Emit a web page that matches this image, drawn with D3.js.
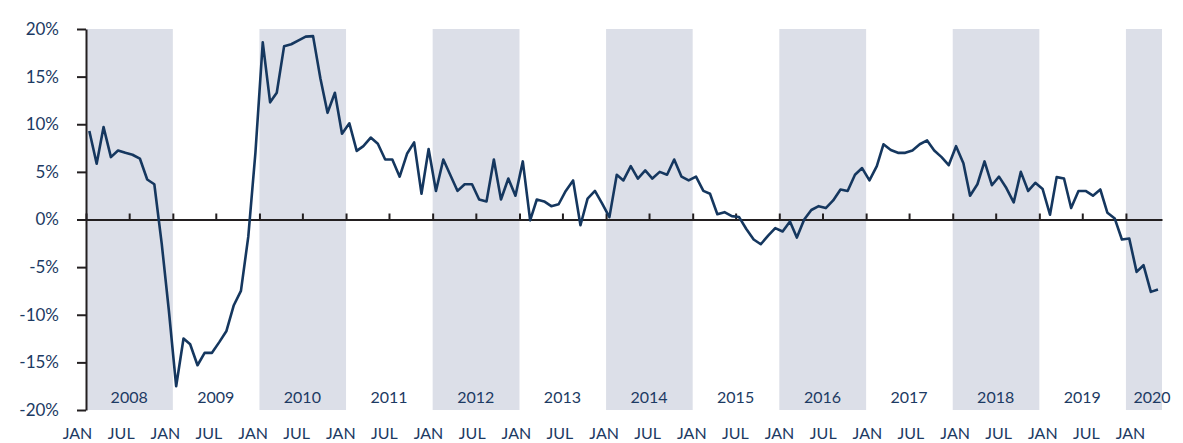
<!DOCTYPE html>
<html>
<head>
<meta charset="utf-8">
<script src="https://cdn.jsdelivr.net/npm/d3@7"></script>
<style>
  html, body { margin: 0; padding: 0; background: #ffffff; }
  svg { display: block; }
  text { font-family: "Lato", "Open Sans", sans-serif; }
</style>
</head>
<body>
<svg id="chart" width="1183" height="443"></svg>
<script>
// ---- data (monthly, Jan 2008 – May 2020), % change ----
const startYear = 2008;
const values2008 = [9.3, 5.85, 9.7, 6.55, 7.25, 7.0, 6.8, 6.4, 4.2, 3.7, -2.5, -9.5];
const values2009 = [-17.5, -12.5, -13.1, -15.3, -14.0, -14.0, -12.9, -11.7, -9.0, -7.5, -1.8, 7.0];
const values2010 = [18.6, 12.3, 13.3, 18.2, 18.4, 18.8, 19.2, 19.25, 14.8, 11.2, 13.3, 9.0];
const values2011 = [10.1, 7.2, 7.7, 8.6, 7.95, 6.3, 6.3, 4.5, 6.9, 8.1, 2.7, 7.4];
const values2012 = [3.0, 6.3, 4.7, 3.0, 3.7, 3.7, 2.1, 1.9, 6.3, 2.1, 4.3, 2.5];
const values2013 = [6.1, -0.1, 2.1, 1.9, 1.4, 1.6, 3.0, 4.1, -0.6, 2.2, 3.0, 1.7];
const values2014 = [0.25, 4.7, 4.1, 5.6, 4.3, 5.15, 4.3, 5.0, 4.7, 6.3, 4.5, 4.1];
const values2015 = [4.5, 3.0, 2.7, 0.55, 0.77, 0.35, 0.27, -1.0, -2.1, -2.6, -1.7, -0.9];
const values2016 = [-1.26, -0.2, -1.9, 0.0, 1.0, 1.4, 1.2, 2.0, 3.15, 3.0, 4.7, 5.4];
const values2017 = [4.1, 5.6, 7.9, 7.3, 7.0, 7.0, 7.25, 7.9, 8.3, 7.25, 6.55, 5.7];
const values2018 = [7.7, 5.9, 2.5, 3.7, 6.1, 3.6, 4.5, 3.3, 1.8, 5.0, 3.0, 3.85];
const values2019 = [3.2, 0.5, 4.45, 4.3, 1.2, 3.0, 3.0, 2.5, 3.15, 0.7, 0.1, -2.1];
const values2020 = [-2.0, -5.5, -4.8, -7.6, -7.35];

const years = [2008, 2009, 2010, 2011, 2012, 2013, 2014, 2015, 2016, 2017, 2018, 2019, 2020];
const shadedYears = [2008, 2010, 2012, 2014, 2016, 2018, 2020];
const yTicks = [-20, -15, -10, -5, 0, 5, 10, 15, 20];

// ---- build series ----
const allValues = [].concat(values2008, values2009, values2010, values2011, values2012,
  values2013, values2014, values2015, values2016, values2017, values2018, values2019, values2020);
const series = allValues.map((v, i) => ({
  date: new Date(Date.UTC(startYear, i, 15)),
  value: v
}));

// ---- layout ----
const svg = d3.select("#chart");
const navy = "#1c3a63";
const axisCol = "#231f20";

const x = d3.scaleUtc()
  .domain([new Date(Date.UTC(2008, 0, 1)), new Date(Date.UTC(2020, 5, 1))])
  .range([86, 1162]);
const y = d3.scaleLinear().domain([-20, 20]).range([410, 29]);

// label scale for the bottom month row
const xLab = d3.scaleUtc()
  .domain([new Date(Date.UTC(2008, 0, 1)), new Date(Date.UTC(2020, 0, 1))])
  .range([77, 1130]);

// ---- shaded year bands ----
svg.append("g").selectAll("rect")
  .data(shadedYears)
  .join("rect")
  .attr("x", d => x(new Date(Date.UTC(d, 0, 1))))
  .attr("y", y(20))
  .attr("width", d => Math.min(x(new Date(Date.UTC(d + 1, 0, 1))), x.range()[1]) - x(new Date(Date.UTC(d, 0, 1))))
  .attr("height", y(-20) - y(20))
  .attr("fill", "#dcdfe8");

// ---- year labels ----
svg.append("g").selectAll("text")
  .data(years)
  .join("text")
  .attr("x", d => Math.min(x(new Date(Date.UTC(d, 6, 1))), x.range()[1] - 10))
  .attr("y", 403)
  .attr("text-anchor", "middle")
  .attr("font-size", 16)
  .attr("fill", navy)
  .text(d => d);

// ---- y axis ----
const yAxis = svg.append("g")
  .attr("transform", `translate(${x.range()[0]},0)`)
  .call(d3.axisLeft(y).tickValues(yTicks).tickSize(9).tickSizeOuter(0).tickPadding(18)
    .tickFormat(d => d + "%"));
yAxis.select(".domain").attr("stroke", axisCol).attr("stroke-width", 2);
yAxis.selectAll(".tick line").attr("stroke", axisCol).attr("stroke-width", 2);
yAxis.selectAll(".tick text").attr("font-size", 17).attr("fill", navy)
  .attr("font-family", "Lato, 'Open Sans', sans-serif");

// ---- zero line with half-year ticks ----
const zeroAxis = svg.append("g")
  .attr("transform", `translate(0,${y(0)})`)
  .call(d3.axisBottom(x).ticks(d3.utcMonth.every(6)).tickSizeInner(-6).tickSizeOuter(0)
    .tickFormat(""));
zeroAxis.select(".domain").attr("stroke", axisCol).attr("stroke-width", 2);
zeroAxis.selectAll(".tick line").attr("stroke", axisCol).attr("stroke-width", 2);

// ---- data line ----
const line = d3.line()
  .x(d => x(d.date))
  .y(d => y(d.value));
svg.append("path")
  .datum(series)
  .attr("d", line)
  .attr("fill", "none")
  .attr("stroke", "#15375f")
  .attr("stroke-width", 2.6)
  .attr("stroke-linejoin", "round");

// ---- month labels row ----
const monthAxis = svg.append("g")
  .attr("transform", "translate(0,428)")
  .call(d3.axisBottom(xLab).ticks(d3.utcMonth.every(6)).tickSize(0).tickPadding(0)
    .tickFormat(d => d3.utcFormat("%b")(d).toUpperCase()));
monthAxis.select(".domain").remove();
monthAxis.selectAll(".tick text").attr("font-size", 16).attr("fill", navy)
  .attr("font-family", "Lato, 'Open Sans', sans-serif");
</script>
</body>
</html>
